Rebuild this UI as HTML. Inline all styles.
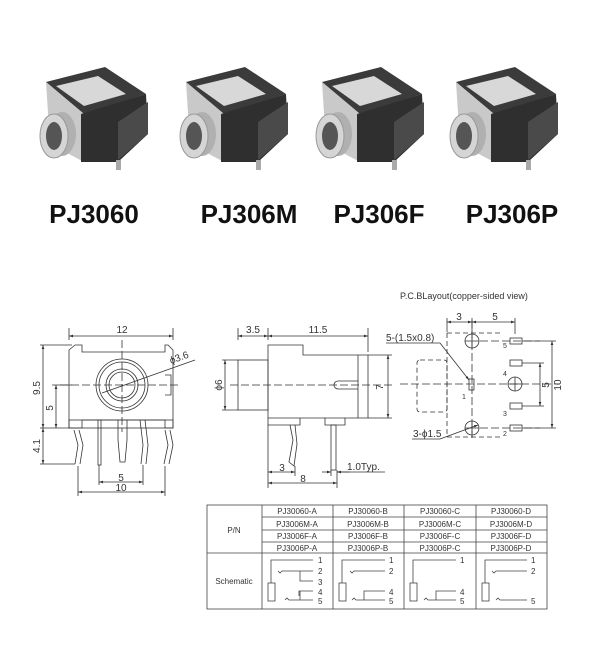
<!DOCTYPE html>
<html><head><meta charset="utf-8"><style>
html,body{margin:0;padding:0;background:#fff;}
svg{display:block;font-family:"Liberation Sans",Arial,sans-serif;}
</style></head><body>
<svg width="600" height="663" viewBox="0 0 600 663" xmlns="http://www.w3.org/2000/svg">
<defs>
<g id="jack">
  <polygon points="10,18 69,3 110,30 48,50" fill="#3b3b3b"/>
  <polygon points="20,22 62,12 90,30 48,42" fill="#d8d8d8"/>
  <polygon points="10,18 48,50 48,98 14,80" fill="#c9c9c9"/>
  <polygon points="45,50 110,30 112,70 82,98 45,98" fill="#2f2f2f"/>
  <polygon points="82,58 112,38 112,70 82,96" fill="#4a4a4a"/>
  <rect x="80" y="96" width="5" height="10" fill="#aaa"/>
  <rect x="22" y="80" width="4" height="12" fill="#aaa"/>
  <ellipse cx="26" cy="70" rx="14" ry="22" fill="#b0b0b0"/>
  <ellipse cx="18" cy="72" rx="14" ry="22" fill="#d5d5d5" stroke="#999" stroke-width="1"/>
  <ellipse cx="18" cy="72" rx="8" ry="14" fill="#555"/>
</g>
<marker id="a" viewBox="0 0 6 6" refX="6" refY="3" markerWidth="5" markerHeight="5" orient="auto-start-reverse"><path d="M0,1 L6,3 L0,5z" fill="#333"/></marker>
</defs>

<use href="#jack" x="36" y="64"/>
<use href="#jack" x="176" y="64"/>
<use href="#jack" x="312" y="64"/>
<use href="#jack" x="446" y="64"/>

<g font-weight="bold" font-size="26" fill="#111" text-anchor="middle">
<text x="94" y="223">PJ3060</text>
<text x="249" y="223">PJ306M</text>
<text x="379" y="223">PJ306F</text>
<text x="512" y="223">PJ306P</text>
</g>

<g stroke="#333" stroke-width="0.8" fill="none">
<path d="M69,340V328 M173,340V328"/>
<line x1="69" y1="336" x2="173" y2="336" marker-start="url(#a)" marker-end="url(#a)"/>
<path d="M75,345 H82 V352 H165 V345 H168 L173,350 V428 H165 V420 H82 V428 H69 V350Z"/>
<rect x="69" y="420" width="104" height="8"/>
<path d="M165,375 H171 V395 H165"/>
<circle cx="122" cy="385" r="26"/><circle cx="122" cy="385" r="23"/>
<circle cx="122" cy="385" r="16"/><circle cx="122" cy="385" r="13"/>
<path d="M60,385 H180 M122,340 V432" stroke-dasharray="8,3"/>
<line x1="102" y1="393" x2="195" y2="360"/>
<path d="M40,345 H72 M40,428 H72 M52,385 H72 M40,464 H75"/>
<line x1="43" y1="345" x2="43" y2="428" marker-start="url(#a)" marker-end="url(#a)"/>
<line x1="56" y1="385" x2="56" y2="428" marker-start="url(#a)" marker-end="url(#a)"/>
<line x1="43" y1="428" x2="43" y2="464" marker-start="url(#a)" marker-end="url(#a)"/>
<path d="M74,430 L78,445 L75,464 M79,430 L83,445 L80,464"/>
<path d="M165,430 L168,445 L164,464 M170,430 L173,445 L169,464"/>
<rect x="98" y="420" width="3" height="45"/>
<path d="M118,420 V440 L120,462 H125 L127,440 V420"/>
<path d="M140,420 L143,445 L141,464 M145,420 L148,445 L146,464"/>
<path d="M99,465 V485 M143,465 V485 M78,466 V496 M165,466 V496"/>
<line x1="99" y1="482" x2="143" y2="482" marker-start="url(#a)" marker-end="url(#a)"/>
<line x1="78" y1="492" x2="165" y2="492" marker-start="url(#a)" marker-end="url(#a)"/>

<path d="M238,340V328 M268,340V328 M368,352V328"/>
<line x1="238" y1="336" x2="268" y2="336" marker-start="url(#a)" marker-end="url(#a)"/>
<line x1="268" y1="336" x2="368" y2="336" marker-start="url(#a)" marker-end="url(#a)"/>
<rect x="238" y="360" width="30" height="50"/>
<path d="M268,345 H303 V355 H368 V418 H268Z"/>
<path d="M358,355 V418"/>
<path d="M268,418 V425 H300 V418 M325,418 V425 H345 V418"/>
<path d="M358,381 H338 A4,4 0 0 0 338,389 H358"/>
<path d="M230,385 H395" stroke-dasharray="8,3"/>
<path d="M222,360 H238 M222,410 H238 M368,355 H392 M368,418 H392"/>
<line x1="225" y1="360" x2="225" y2="410" marker-start="url(#a)" marker-end="url(#a)"/>
<line x1="388" y1="355" x2="388" y2="418" marker-start="url(#a)" marker-end="url(#a)"/>
<path d="M290,425 L293,440 L289,462 L294,466 L297,444 L295,425"/>
<rect x="331" y="425" width="5" height="45"/>
<path d="M268,425 V488 M295,466 V476 M337,470 V488 M331,470 V476"/>
<line x1="268" y1="472" x2="295" y2="472" marker-start="url(#a)" marker-end="url(#a)"/>
<line x1="268" y1="483" x2="337" y2="483" marker-start="url(#a)" marker-end="url(#a)"/>
<line x1="322" y1="472" x2="331" y2="472" marker-end="url(#a)"/>
<line x1="350" y1="472" x2="337" y2="472" marker-end="url(#a)"/>
<line x1="337" y1="472" x2="385" y2="472"/>

<path d="M447,333 H503 M447,333 V437 H503" stroke-dasharray="5,3"/>
<rect x="417" y="360" width="30" height="52" rx="3" stroke-dasharray="5,3"/>
<path d="M400,384 H560 M472,320 V440" stroke-dasharray="8,3"/>
<path d="M480,341 H540 M480,428 H540" stroke-dasharray="8,3"/>
<circle cx="472" cy="341" r="7"/><circle cx="472" cy="428" r="7"/><circle cx="515" cy="384" r="7"/>
<path d="M465,341H479M472,334V348 M465,428H479M472,421V435 M508,384H522M515,377V391"/>
<rect x="469" y="379" width="5" height="11"/>
<rect x="510" y="338" width="12" height="6"/><rect x="510" y="360" width="12" height="6"/>
<rect x="510" y="403" width="12" height="6"/><rect x="510" y="425" width="12" height="6"/>
<path d="M447,332V318 M472,332V318 M515,334V318"/>
<line x1="447" y1="322" x2="472" y2="322" marker-start="url(#a)" marker-end="url(#a)"/>
<line x1="472" y1="322" x2="515" y2="322" marker-start="url(#a)" marker-end="url(#a)"/>
<path d="M522,341H556 M522,428H556 M522,363H544 M522,406H544"/>
<line x1="552" y1="341" x2="552" y2="428" marker-start="url(#a)" marker-end="url(#a)"/>
<line x1="540" y1="363" x2="540" y2="406" marker-start="url(#a)" marker-end="url(#a)"/>
<path d="M386,343 H440"/><line x1="440" y1="343" x2="469" y2="380" marker-end="url(#a)"/>
<path d="M412,439 H440"/><line x1="440" y1="439" x2="478" y2="425" marker-end="url(#a)"/>
</g>

<g font-size="10" fill="#333">
<text x="122" y="333" text-anchor="middle">12</text>
<text x="171" y="364" transform="rotate(-20 171 364)">ϕ3.6</text>
<text x="40" y="388" text-anchor="middle" transform="rotate(-90 40 388)">9.5</text>
<text x="53" y="408" text-anchor="middle" transform="rotate(-90 53 408)">5</text>
<text x="40" y="446" text-anchor="middle" transform="rotate(-90 40 446)">4.1</text>
<text x="121" y="481" text-anchor="middle">5</text>
<text x="121" y="491" text-anchor="middle">10</text>
<text x="253" y="333" text-anchor="middle">3.5</text>
<text x="318" y="333" text-anchor="middle">11.5</text>
<text x="222" y="385" text-anchor="middle" transform="rotate(-90 222 385)">ϕ6</text>
<text x="383" y="387" text-anchor="middle" transform="rotate(-90 383 387)">7</text>
<text x="282" y="471" text-anchor="middle">3</text>
<text x="303" y="482" text-anchor="middle">8</text>
<text x="347" y="470">1.0Typ.</text>
<text x="400" y="299" font-size="9">P.C.BLayout(copper-sided view)</text>
<text x="459" y="320" text-anchor="middle">3</text>
<text x="495" y="320" text-anchor="middle">5</text>
<text x="386" y="341">5-(1.5x0.8)</text>
<text x="413" y="437">3-ϕ1.5</text>
<text x="549" y="385" text-anchor="middle" transform="rotate(-90 549 385)">5</text>
<text x="561" y="385" text-anchor="middle" transform="rotate(-90 561 385)">10</text>
<g font-size="7"><text x="462" y="399">1</text><text x="503" y="348">5</text><text x="503" y="376">4</text><text x="503" y="416">3</text><text x="503" y="436">2</text></g>
</g>

<g stroke="#444" stroke-width="0.8" fill="none">
<rect x="207" y="505" width="340" height="104"/>
<path d="M262,505V609 M333,505V609 M404,505V609 M476,505V609 M207,553H547 M262,517H547 M262,530H547 M262,542H547"/>
</g>
<g font-size="8" fill="#333" text-anchor="middle">
<text x="234" y="533">P/N</text>
<text x="234" y="584">Schematic</text>
<text x="297" y="514">PJ30060-A</text><text x="368" y="514">PJ30060-B</text><text x="440" y="514">PJ30060-C</text><text x="511" y="514">PJ30060-D</text>
<text x="297" y="527">PJ3006M-A</text><text x="368" y="527">PJ3006M-B</text><text x="440" y="527">PJ3006M-C</text><text x="511" y="527">PJ3006M-D</text>
<text x="297" y="539">PJ3006F-A</text><text x="368" y="539">PJ3006F-B</text><text x="440" y="539">PJ3006F-C</text><text x="511" y="539">PJ3006F-D</text>
<text x="297" y="551">PJ3006P-A</text><text x="368" y="551">PJ3006P-B</text><text x="440" y="551">PJ3006P-C</text><text x="511" y="551">PJ3006P-D</text>
</g>
<g stroke="#444" stroke-width="0.8" fill="none">
<path d="M271,583V560H313 M278,571L280,573L282,571H313 M300,571V581H313 M299,596V591H313 M285,600L287,598L289,600H313 M300,600V591"/>
<rect x="268" y="583" width="7" height="18"/>
<path d="M342,583V560H385 M350,571L352,573L354,571H385 M364,600V591H385 M352,600L354,598L356,600H385"/>
<rect x="339" y="583" width="7" height="18"/>
<path d="M413,583V560H456 M436,600V591H456 M424,600L426,598L428,600H456"/>
<rect x="410" y="583" width="7" height="18"/>
<path d="M485,583V560H527 M492,571L494,573L496,571H527 M496,600L498,598L500,600H527"/>
<rect x="482" y="583" width="7" height="18"/>
</g>
<g font-size="8" fill="#333">
<text x="318" y="563">1</text><text x="318" y="574">2</text><text x="318" y="585">3</text><text x="318" y="595">4</text><text x="318" y="604">5</text>
<text x="389" y="563">1</text><text x="389" y="574">2</text><text x="389" y="595">4</text><text x="389" y="604">5</text>
<text x="460" y="563">1</text><text x="460" y="595">4</text><text x="460" y="604">5</text>
<text x="531" y="563">1</text><text x="531" y="574">2</text><text x="531" y="604">5</text>
</g>
</svg>
</body></html>
